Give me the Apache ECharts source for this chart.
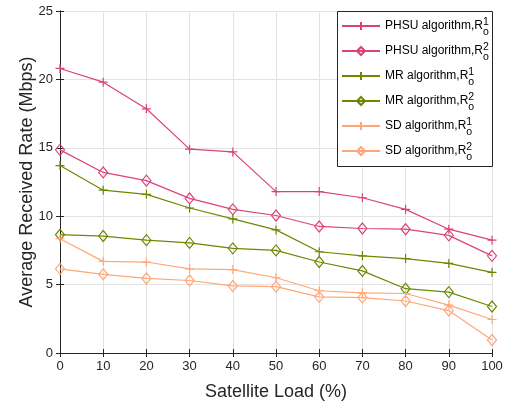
<!DOCTYPE html>
<html>
<head>
<meta charset="utf-8">
<script src="https://cdn.jsdelivr.net/npm/echarts@6/dist/echarts.min.js"></script>
<style>
  html, body { margin: 0; padding: 0; background: #fff; }
  #chart { width: 511px; height: 402px; }
</style>
</head>
<body>
<div id="chart"></div>
<script>
// Satellite load (%) on the x axis
const loads = [0, 10, 20, 30, 40, 50, 60, 70, 80, 90, 100];

// Average received rate (Mbps) per algorithm and outage threshold
const phsuR1 = [20.8, 19.8, 17.85, 14.9, 14.7, 11.8, 11.8, 11.35, 10.5, 9.05, 8.25];
const phsuR2 = [14.85, 13.2, 12.6, 11.3, 10.5, 10.05, 9.25, 9.1, 9.05, 8.6, 7.1];
const mrR1 = [13.7, 11.9, 11.6, 10.6, 9.8, 9.0, 7.4, 7.1, 6.9, 6.55, 5.9];
const mrR2 = [8.65, 8.55, 8.25, 8.05, 7.65, 7.5, 6.65, 6.0, 4.7, 4.45, 3.4];
const sdR1 = [8.35, 6.7, 6.65, 6.15, 6.1, 5.5, 4.55, 4.4, 4.35, 3.5, 2.45];
const sdR2 = [6.15, 5.75, 5.45, 5.3, 4.9, 4.85, 4.1, 4.05, 3.8, 3.1, 0.95];

// Legend labels: base text, superscript, subscript
const seriesNames = ['PHSU algorithm,R', 'MR algorithm,R', 'SD algorithm,R'];
const supLabels = ['1', '2'];
const subLabel = 'o';

const FONT = 'Liberation Sans, Arial, Helvetica, sans-serif';
const AXIS_COLOR = '#262626';
const GRID_COLOR = '#e3e3e3';

const colors = { phsu: '#D94379', mr: '#6C8800', sd: '#FFA777' };

const PLUS = 'path://M5,0L5,10M0,5L10,5';

function pairs(vals) {
  return loads.map((x, i) => [x, vals[i]]);
}

function makeSeries(id, vals, color, marker) {
  const isPlus = marker === 'plus';
  return {
    id: id,
    name: id,
    type: 'line',
    data: pairs(vals),
    symbol: isPlus ? PLUS : 'diamond',
    symbolSize: isPlus ? [9, 9] : [9, 11],
    showSymbol: true,
    lineStyle: { color: color, width: 1.2 },
    itemStyle: { color: 'none', borderColor: color, borderWidth: 1.2 },
    emphasis: { disabled: true },
    animation: false
  };
}

const series = [
  makeSeries('phsu1', phsuR1, colors.phsu, 'plus'),
  makeSeries('phsu2', phsuR2, colors.phsu, 'diamond'),
  makeSeries('mr1', mrR1, colors.mr, 'plus'),
  makeSeries('mr2', mrR2, colors.mr, 'diamond'),
  makeSeries('sd1', sdR1, colors.sd, 'plus'),
  makeSeries('sd2', sdR2, colors.sd, 'diamond')
];

const legendText = {
  phsu1: [seriesNames[0], supLabels[0]],
  phsu2: [seriesNames[0], supLabels[1]],
  mr1: [seriesNames[1], supLabels[0]],
  mr2: [seriesNames[1], supLabels[1]],
  sd1: [seriesNames[2], supLabels[0]],
  sd2: [seriesNames[2], supLabels[1]]
};

const chart = echarts.init(document.getElementById('chart'), null, { renderer: 'canvas' });

const hiddenAxis = {
  axisLabel: { show: false },
  splitLine: { show: false },
  axisLine: { show: true, lineStyle: { color: AXIS_COLOR, width: 1 } },
  axisTick: { show: true, inside: true, length: 4, lineStyle: { color: AXIS_COLOR } }
};

chart.setOption({
  backgroundColor: '#ffffff',
  animation: false,
  textStyle: { fontFamily: FONT },
  grid: { left: 60, right: 19, top: 11, bottom: 49, containLabel: false, outerBoundsMode: 'none' },
  xAxis: [
    {
      type: 'value', min: 0, max: 100, interval: 10,
      name: 'Satellite Load (%)', nameLocation: 'middle', nameGap: 30, nameMoveOverlap: false,
      nameTextStyle: { fontSize: 18, color: AXIS_COLOR, fontFamily: FONT },
      axisLine: { show: true, onZero: false, lineStyle: { color: AXIS_COLOR, width: 1 } },
      axisTick: { show: true, inside: true, length: 4, lineStyle: { color: AXIS_COLOR } },
      axisLabel: { fontSize: 13, color: AXIS_COLOR, margin: 7, fontFamily: FONT },
      splitLine: { show: true, lineStyle: { color: GRID_COLOR, width: 1 } }
    },
    Object.assign({ type: 'value', min: 0, max: 100, interval: 10, position: 'top' }, hiddenAxis)
  ],
  yAxis: [
    {
      type: 'value', min: 0, max: 25, interval: 5,
      name: 'Average Received Rate (Mbps)', nameLocation: 'middle', nameGap: 24, nameMoveOverlap: false,
      nameTextStyle: { fontSize: 18, color: AXIS_COLOR, fontFamily: FONT },
      axisLine: { show: true, onZero: false, lineStyle: { color: AXIS_COLOR, width: 1 } },
      axisTick: { show: true, inside: true, length: 4, lineStyle: { color: AXIS_COLOR } },
      axisLabel: { fontSize: 13, color: AXIS_COLOR, margin: 7, fontFamily: FONT },
      splitLine: { show: true, lineStyle: { color: GRID_COLOR, width: 1 } }
    },
    Object.assign({ type: 'value', min: 0, max: 25, interval: 5, position: 'right' }, hiddenAxis)
  ],
  graphic: [
    {
      type: 'rect', left: 337, top: 11, z: 3,
      shape: { width: 155, height: 155 },
      style: { fill: '#ffffff', stroke: AXIS_COLOR, lineWidth: 1 }
    }
  ],
  legend: {
    show: true,
    orient: 'vertical',
    left: 337, top: 11,
    padding: [5, 4, 3, 4],
    itemGap: 3.5,
    itemWidth: 38,
    itemHeight: 10,
    z: 5,
    selectedMode: false,
    data: series.map(s => s.name),
    formatter: function (name) {
      const t = legendText[name];
      return '{t|' + t[0] + '}{sup|' + t[1] + '}{sub|' + subLabel + '}';
    },
    textStyle: {
      fontFamily: FONT,
      color: '#000000',
      rich: {
        t: { fontSize: 12, height: 20, lineHeight: 20, color: '#000000', fontFamily: FONT },
        sup: { fontSize: 10.5, height: 10, lineHeight: 10, width: 0, padding: [0, 0, 8, 0], color: '#000000', fontFamily: FONT },
        sub: { fontSize: 10.5, height: 8, lineHeight: 8, padding: [12, 0, 0, 0], color: '#000000', fontFamily: FONT }
      }
    }
  },
  series: series
});
</script>
</body>
</html>
